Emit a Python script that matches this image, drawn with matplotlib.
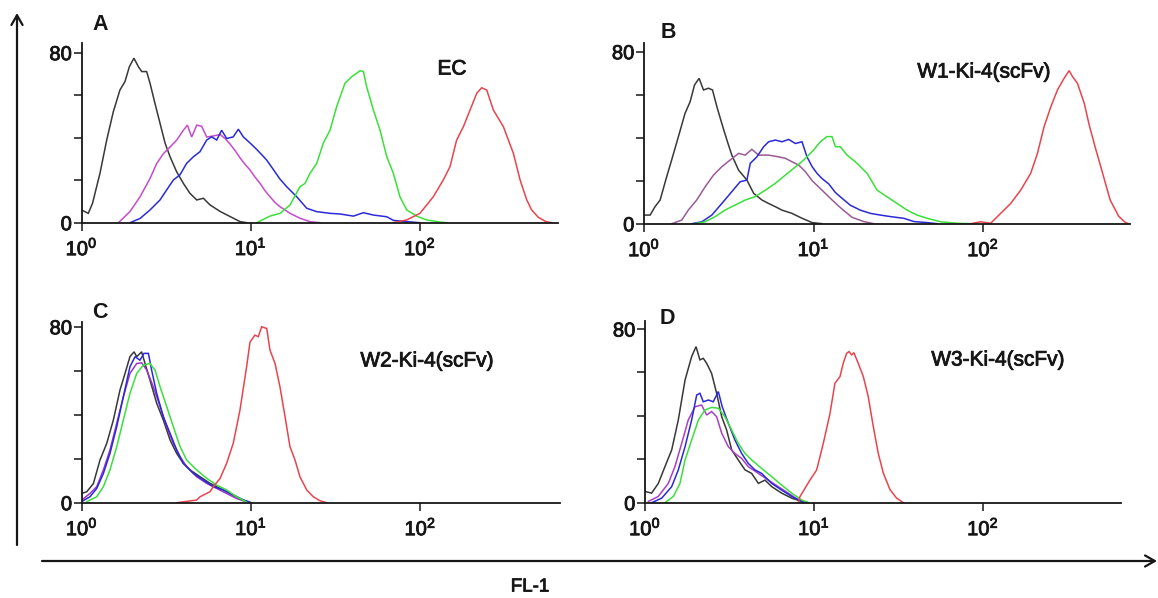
import matplotlib
matplotlib.use("Agg")
import matplotlib.pyplot as plt
import matplotlib.patheffects as pe
import numpy as np

plt.rcParams["font.family"] = ["Liberation Sans", "DejaVu Sans"]
plt.rcParams["mathtext.default"] = "regular"

# ---- histogram data: (log10 FL-1 intensity, cell count) ----
A_BLACK = [(0.00, 6.0), (0.04, 4.4), (0.065, 9.1), (0.109, 23.2), (0.149, 38.9), (0.188, 52.2),
           (0.227, 62.4), (0.257, 66.4), (0.283, 73.4), (0.31, 77.4), (0.336, 73.4), (0.356, 71.1),
           (0.385, 71.1), (0.405, 65.6), (0.434, 56.2), (0.464, 46.8), (0.494, 37.4), (0.523, 31.1),
           (0.562, 24.0), (0.602, 18.5), (0.641, 13.8), (0.681, 10.7), (0.72, 11.5), (0.759, 8.4),
           (0.819, 5.3), (0.878, 2.9), (0.937, 0.5), (0.976, 0.0)]
A_MAGENTA = [(0.218, 0.0), (0.286, 5.2), (0.346, 12.2), (0.405, 20.8), (0.444, 27.8), (0.484, 32.5),
             (0.523, 35.6), (0.562, 38.8), (0.602, 43.5), (0.626, 45.9), (0.651, 40.3), (0.681, 45.9),
             (0.71, 45.4), (0.74, 40.3), (0.779, 40.8), (0.819, 41.5), (0.85, 39.5), (0.878, 37.0),
             (0.907, 34.0), (0.937, 30.5), (0.966, 27.5), (0.996, 24.8), (1.025, 21.5), (1.055, 18.5),
             (1.085, 15.0), (1.114, 12.2), (1.144, 9.5), (1.173, 7.5), (1.203, 6.0), (1.232, 4.4),
             (1.291, 2.1), (1.35, 0.5), (1.41, 0.0)]
A_BLUE = [(0.287, 0.0), (0.346, 2.0), (0.405, 6.0), (0.464, 10.7), (0.503, 15.4), (0.543, 20.1),
          (0.582, 22.5), (0.621, 27.9), (0.661, 31.0), (0.70, 33.4), (0.74, 38.9), (0.769, 40.4),
          (0.799, 38.9), (0.828, 43.5), (0.858, 39.6), (0.897, 40.4), (0.927, 44.0), (0.956, 40.4),
          (0.996, 37.5), (1.035, 34.5), (1.065, 32.0), (1.094, 29.5), (1.134, 25.0), (1.173, 20.5),
          (1.213, 16.9), (1.272, 12.2), (1.331, 6.8), (1.39, 5.2), (1.469, 4.4), (1.528, 4.1),
          (1.607, 3.1), (1.666, 4.7), (1.725, 3.6), (1.804, 2.8), (1.843, 1.1), (1.922, 0.5), (2.0, 0.0)]
A_GREEN = [(1.035, 0.0), (1.114, 3.1), (1.173, 4.4), (1.232, 8.3), (1.291, 16.9), (1.321, 18.5),
           (1.35, 23.2), (1.39, 27.9), (1.429, 37.4), (1.469, 43.6), (1.508, 54.6), (1.557, 65.6),
           (1.597, 68.7), (1.626, 70.3), (1.646, 71.5), (1.666, 71.1), (1.685, 64.0), (1.725, 53.0),
           (1.764, 43.6), (1.804, 31.1), (1.843, 23.2), (1.882, 12.2), (1.922, 6.0), (1.981, 3.1),
           (2.04, 1.3), (2.119, 0.3), (2.16, 0.0)]
A_RED = [(1.843, 0.0), (1.922, 1.3), (2.0, 4.4), (2.079, 12.2), (2.138, 20.1), (2.178, 26.4),
         (2.217, 38.9), (2.257, 45.2), (2.296, 53.0), (2.336, 60.9), (2.365, 63.5), (2.395, 62.4),
         (2.434, 53.0), (2.493, 45.2), (2.552, 32.7), (2.592, 20.1), (2.63, 11.0), (2.66, 6.0),
         (2.70, 2.5), (2.745, 0.5), (2.78, 0.0)]

B_BLACK = [(0.0, 4.0), (0.036, 4.0), (0.065, 7.9), (0.095, 11.0), (0.134, 21.9), (0.163, 29.6),
           (0.203, 40.5), (0.242, 51.3), (0.272, 56.7), (0.298, 64.5), (0.325, 67.6), (0.351, 62.2),
           (0.38, 63.0), (0.404, 62.2), (0.43, 54.4), (0.459, 46.6), (0.489, 38.9), (0.518, 31.9),
           (0.558, 24.9), (0.607, 20.3), (0.647, 14.1), (0.696, 11.0), (0.735, 9.4), (0.775, 7.9),
           (0.814, 6.3), (0.873, 4.8), (0.933, 2.5), (0.992, 0.5), (1.05, 0.0)]
B_PURPLE = [(0.164, 0.0), (0.223, 1.7), (0.262, 6.4), (0.311, 11.0), (0.361, 17.2), (0.41, 22.6),
            (0.459, 26.5), (0.508, 29.6), (0.558, 32.7), (0.597, 31.9), (0.636, 34.6), (0.676, 31.9),
            (0.735, 31.9), (0.794, 31.1), (0.834, 30.4), (0.873, 28.8), (0.912, 27.3), (0.952, 24.2),
            (0.992, 20.0), (1.05, 15.6), (1.11, 11.0), (1.168, 6.8), (1.227, 3.0), (1.296, 1.0),
            (1.355, 0.0)]
B_BLUE = [(0.282, 0.0), (0.341, 0.9), (0.40, 4.0), (0.459, 9.4), (0.518, 14.9), (0.567, 19.5),
          (0.607, 20.3), (0.627, 28.1), (0.666, 31.1), (0.706, 35.8), (0.735, 38.1), (0.775, 38.9),
          (0.814, 38.1), (0.853, 39.2), (0.893, 37.3), (0.932, 38.1), (0.962, 31.0), (0.992, 26.5),
          (1.021, 23.4), (1.05, 21.0), (1.09, 18.5), (1.129, 14.5), (1.158, 12.5), (1.217, 8.6),
          (1.276, 6.3), (1.336, 4.8), (1.395, 4.0), (1.454, 3.3), (1.533, 2.5), (1.592, 1.0),
          (1.671, 0.5), (1.73, 0.0)]
B_GREEN = [(0.301, 0.0), (0.361, 0.9), (0.42, 3.3), (0.479, 6.4), (0.538, 8.7), (0.597, 11.0),
           (0.656, 12.6), (0.716, 15.6), (0.775, 18.8), (0.823, 21.9), (0.882, 25.7), (0.942, 29.6),
           (1.0, 34.2), (1.04, 38.1), (1.079, 40.5), (1.109, 40.5), (1.129, 35.8), (1.158, 35.8),
           (1.198, 31.9), (1.257, 28.1), (1.316, 23.4), (1.375, 15.6), (1.434, 12.5), (1.493, 9.4),
           (1.552, 6.3), (1.611, 4.0), (1.671, 2.5), (1.749, 0.9), (1.848, 0.2), (1.927, 0.0)]
B_RED = [(1.927, 0.0), (1.986, 0.9), (2.045, 0.2), (2.104, 4.8), (2.163, 9.4), (2.222, 15.6),
         (2.281, 23.4), (2.321, 32.7), (2.36, 45.1), (2.40, 54.4), (2.439, 62.2), (2.478, 67.6),
         (2.508, 71.2), (2.528, 68.4), (2.557, 65.3), (2.597, 56.0), (2.626, 46.0), (2.66, 36.0),
         (2.70, 25.0), (2.75, 11.0), (2.80, 3.5), (2.84, 0.5), (2.86, 0.0)]

C_BLACK = [(0.0, 4.2), (0.03, 5.0), (0.069, 8.7), (0.108, 19.4), (0.148, 27.0), (0.187, 37.6),
           (0.226, 51.2), (0.256, 58.8), (0.285, 66.4), (0.309, 68.6), (0.325, 66.4), (0.354, 68.6),
           (0.374, 63.3), (0.403, 55.8), (0.443, 45.2), (0.482, 37.6), (0.522, 28.5), (0.561, 22.4),
           (0.60, 17.9), (0.64, 14.9), (0.699, 11.8), (0.758, 8.8), (0.817, 6.5), (0.876, 4.2),
           (0.935, 1.9), (0.984, 0.3)]
C_PURPLE = [(0.0, 1.2), (0.049, 4.2), (0.089, 7.3), (0.128, 14.9), (0.167, 24.0), (0.207, 36.1),
            (0.246, 48.2), (0.285, 58.8), (0.325, 63.3), (0.354, 63.6), (0.384, 60.3), (0.423, 52.7),
            (0.463, 43.7), (0.502, 34.6), (0.541, 27.0), (0.581, 20.9), (0.62, 16.4), (0.679, 11.8),
            (0.738, 8.8), (0.797, 6.5), (0.856, 4.2), (0.915, 1.9), (0.974, 0.3)]
C_BLUE = [(0.0, 0.5), (0.049, 2.7), (0.089, 6.5), (0.128, 13.3), (0.167, 22.4), (0.207, 34.6),
          (0.246, 48.2), (0.285, 61.8), (0.315, 66.4), (0.344, 64.8), (0.368, 67.9), (0.394, 67.9),
          (0.413, 60.3), (0.443, 49.7), (0.482, 39.1), (0.522, 31.5), (0.561, 24.0), (0.60, 17.9),
          (0.66, 13.3), (0.719, 10.3), (0.778, 7.3), (0.837, 5.8), (0.896, 3.5), (0.955, 1.2),
          (0.994, 0.3)]
C_GREEN = [(0.03, 0.5), (0.089, 2.7), (0.128, 7.3), (0.167, 14.9), (0.207, 25.5), (0.246, 37.6),
           (0.285, 49.7), (0.325, 58.8), (0.364, 62.6), (0.403, 63.3), (0.433, 60.3), (0.463, 52.7),
           (0.502, 43.7), (0.541, 34.6), (0.581, 25.5), (0.62, 19.4), (0.679, 14.9), (0.738, 11.1),
           (0.797, 8.0), (0.856, 5.8), (0.915, 2.7), (0.974, 0.3)]
C_RED = [(0.561, 0.0), (0.679, 1.2), (0.699, 2.7), (0.758, 5.0), (0.777, 7.3), (0.817, 11.0),
         (0.856, 17.9), (0.895, 27.0), (0.935, 42.2), (0.974, 61.8), (0.994, 73.0), (1.023, 76.2),
         (1.043, 75.5), (1.063, 80.0), (1.093, 79.2), (1.112, 69.4), (1.142, 63.3), (1.171, 52.7),
         (1.201, 39.1), (1.23, 25.5), (1.26, 19.4), (1.289, 11.8), (1.329, 5.8), (1.368, 2.7),
         (1.407, 0.9), (1.447, 0.0)]

D_BLACK = [(0.0, 5.2), (0.039, 4.4), (0.079, 8.9), (0.118, 16.6), (0.158, 24.3), (0.197, 38.1),
           (0.237, 56.5), (0.276, 67.3), (0.302, 71.9), (0.325, 65.8), (0.345, 66.5), (0.365, 64.2),
           (0.394, 59.6), (0.424, 50.4), (0.454, 39.6), (0.483, 33.5), (0.513, 24.3), (0.552, 19.7),
           (0.592, 15.1), (0.631, 13.5), (0.671, 8.9), (0.71, 10.4), (0.75, 7.4), (0.809, 4.4),
           (0.868, 2.1), (0.927, 0.6), (0.966, 0.0)]
D_PURPLE = [(0.02, 0.6), (0.079, 2.9), (0.138, 8.9), (0.177, 16.6), (0.217, 27.3), (0.256, 38.1),
            (0.296, 44.2), (0.335, 45.0), (0.365, 40.4), (0.394, 42.0), (0.424, 39.6), (0.454, 32.0),
            (0.493, 25.8), (0.532, 22.7), (0.572, 20.4), (0.611, 16.6), (0.671, 13.5), (0.73, 10.4),
            (0.789, 7.4), (0.848, 4.4), (0.907, 1.3), (0.947, 0.0)]
D_BLUE = [(0.039, 0.0), (0.099, 2.1), (0.158, 7.4), (0.197, 15.1), (0.237, 25.8), (0.276, 38.1),
          (0.306, 49.6), (0.325, 50.4), (0.345, 46.5), (0.375, 47.3), (0.404, 46.5), (0.434, 51.2),
          (0.457, 44.2), (0.493, 36.6), (0.532, 28.9), (0.572, 22.7), (0.611, 18.1), (0.651, 15.1),
          (0.69, 13.5), (0.75, 8.9), (0.809, 5.8), (0.868, 2.9), (0.927, 0.6), (0.966, 0.0)]
D_GREEN = [(0.118, 0.0), (0.168, 2.9), (0.207, 8.9), (0.237, 19.7), (0.276, 28.9), (0.316, 38.1),
           (0.355, 42.7), (0.394, 43.9), (0.434, 43.5), (0.473, 39.6), (0.513, 33.5), (0.552, 27.3),
           (0.592, 22.7), (0.631, 19.7), (0.69, 15.8), (0.75, 12.0), (0.809, 8.1), (0.868, 4.4),
           (0.927, 1.3), (0.966, 0.0)]
D_RED = [(0.907, 0.0), (0.917, 2.8), (0.976, 10.4), (1.016, 15.1), (1.055, 27.3), (1.095, 41.2),
         (1.124, 55.0), (1.154, 58.1), (1.173, 64.2), (1.193, 68.8), (1.207, 69.6), (1.223, 68.1),
         (1.236, 69.1), (1.262, 64.2), (1.292, 58.1), (1.321, 48.9), (1.351, 35.1), (1.38, 22.9),
         (1.41, 13.7), (1.45, 6.0), (1.489, 2.1), (1.529, 0.0)]

PANEL_LETTERS = ["A", "B", "C", "D"]
PANEL_TITLES = ["EC", "W1-Ki-4(scFv)", "W2-Ki-4(scFv)", "W3-Ki-4(scFv)"]
X_TICKS = [1, 10, 100]
X_TICK_LABELS = [r"$10^{0}$", r"$10^{1}$", r"$10^{2}$"]
Y_TICKS = [0, 20, 40, 60, 80]
Y_TICK_LABELS = ["0", "", "", "", "80"]
AXIS_LABEL = "FL-1"

COL_TEXT = "#161616"
COL_BLACK = "#383838"
COL_BLUE = "#2a2ad8"
COL_GREEN = "#3ae03a"
COL_RED = "#e8444e"

# a faint outline gives the lettering its heavier look
THICK = [pe.withStroke(linewidth=0.6, foreground=COL_TEXT)]

W, H = 1158, 598
fig = plt.figure(figsize=(W / 100, H / 100), dpi=100)


def px_rect(left, right, top, bottom):
    return [left / W, 1 - bottom / H, (right - left) / W, (bottom - top) / H]


# panel frames: pixel edges, x upper limit (decades), y upper limit (counts)
panels = [
    dict(rect=px_rect(81.5, 558, 43.3, 222.7), xmax=2.816, ymax=84.4,
         curves=[(A_BLACK, COL_BLACK), (A_MAGENTA, "#c44ccc"), (A_BLUE, COL_BLUE),
                 (A_GREEN, COL_GREEN), (A_RED, COL_RED)]),
    dict(rect=px_rect(644, 1129.5, 43.3, 223.7), xmax=2.864, ymax=83.9,
         curves=[(B_BLACK, COL_BLACK), (B_PURPLE, "#9a5a98"), (B_BLUE, COL_BLUE),
                 (B_GREEN, COL_GREEN), (B_RED, COL_RED)]),
    dict(rect=px_rect(81.7, 560, 321.7, 502.7), xmax=2.825, ymax=82.3,
         curves=[(C_BLACK, COL_BLACK), (C_PURPLE, "#9a34c8"), (C_BLUE, COL_BLUE),
                 (C_GREEN, COL_GREEN), (C_RED, COL_RED)]),
    dict(rect=px_rect(645, 1121, 321.0, 502.7), xmax=2.817, ymax=83.7,
         curves=[(D_BLACK, COL_BLACK), (D_PURPLE, "#a840c4"), (D_BLUE, COL_BLUE),
                 (D_GREEN, COL_GREEN), (D_RED, COL_RED)]),
]

for p in panels:
    ax = fig.add_axes(p["rect"])
    for data, col in p["curves"]:
        lg = np.array([d[0] for d in data])
        cnt = np.array([d[1] for d in data])
        ax.plot(10 ** lg, cnt, color=col, lw=1.1, solid_joinstyle="miter")
    ax.set_xscale("log")
    ax.set_xlim(1, 10 ** p["xmax"])
    ax.set_ylim(0, p["ymax"])
    ax.set_xticks(X_TICKS)
    ax.set_xticklabels(X_TICK_LABELS)
    ax.xaxis.set_minor_locator(matplotlib.ticker.NullLocator())
    ax.set_yticks(Y_TICKS)
    ax.set_yticklabels(Y_TICK_LABELS)
    for s in ("top", "right"):
        ax.spines[s].set_visible(False)
    for s in ("left", "bottom"):
        ax.spines[s].set_linewidth(1.3)
        ax.spines[s].set_color(COL_TEXT)
    ax.tick_params(axis="both", direction="out", length=5.5, width=1.1, color=COL_TEXT,
                   labelsize=14.5, labelcolor=COL_TEXT)
    ax.tick_params(axis="x", pad=5)
    ax.tick_params(axis="y", pad=1.5)
    for lab in ax.get_xticklabels() + ax.get_yticklabels():
        lab.set_path_effects(THICK)
    ax.patch.set_alpha(0)

# overlay in pixel coordinates for the outer arrows and annotations
ov = fig.add_axes([0, 0, 1, 1], zorder=-1)
ov.set_xlim(0, W)
ov.set_ylim(H, 0)
ov.axis("off")

arrow = dict(arrowstyle="->,head_length=0.7,head_width=0.4", lw=1.6, color=COL_TEXT,
             shrinkA=0, shrinkB=0)
ov.annotate("", xy=(17, 13), xytext=(17, 545), arrowprops=arrow)
ov.annotate("", xy=(1157, 561), xytext=(42, 561), arrowprops=arrow)

letter_pos = [(100, 24), (668, 32), (100, 312), (667, 318)]
for (x, y), s in zip(letter_pos, PANEL_LETTERS):
    ov.text(x, y, s, ha="center", va="center", fontsize=15.5, fontweight="bold", color=COL_TEXT)

title_pos = [(452, 69), (984, 72), (427, 361), (998, 360)]
for (x, y), s in zip(title_pos, PANEL_TITLES):
    ov.text(x, y, s, ha="center", va="center", fontsize=15, color=COL_TEXT, path_effects=THICK)

ov.text(530, 587, AXIS_LABEL, ha="center", va="center", fontsize=13.5, color=COL_TEXT,
        path_effects=THICK)

fig.savefig("out.png", dpi=100)
